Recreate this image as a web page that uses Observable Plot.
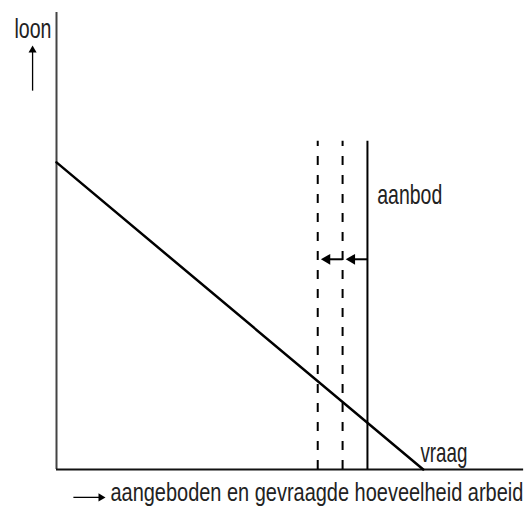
<!DOCTYPE html>
<html>
<head>
<meta charset="utf-8">
<script src="https://cdn.jsdelivr.net/npm/d3@7"></script>
<script src="https://cdn.jsdelivr.net/npm/@observablehq/plot@0.6"></script>
<style>
  html, body { margin: 0; padding: 0; background: #fff; }
  svg { display: block; }
</style>
</head>
<body>
<div id="chart"></div>
<script>
// Abstract units: x = hoeveelheid arbeid (0-100), y = loon (0-100)
const demandX = [0, 78.2];
const demandY = [67.2, 0];
const supplyX = [66.3];          // aanbod (solid)
const shiftedX = [61.0, 55.7];   // verschoven aanbod (dashed)
const supplyTop = 71.8;
const arrowY = 46.0;
const labels = ["loon", "aanbod", "vraag", "aangeboden en gevraagde hoeveelheid arbeid"];

const demand = demandX.map((x, i) => ({x, y: demandY[i]}));
const shiftArrows = [
  {x1: supplyX[0], x2: 63.0},
  {x1: shiftedX[0], x2: 57.7}
];

const font = "'Liberation Sans', Arial, sans-serif";
// target rendered widths (condensed look of the original typeface)
const textWidths = {"loon": 37, "aanbod": 65, "vraag": 47, "aangeboden en gevraagde hoeveelheid arbeid": 413};

const chart = Plot.plot({
  width: 530,
  height: 508,
  marginLeft: 56,
  marginRight: 5,
  marginTop: 12,
  marginBottom: 39,
  x: {domain: [0, 100], axis: null},
  y: {domain: [0, 100], axis: null},
  style: {fontFamily: font, background: "#fff", overflow: "visible"},
  marks: [
    // axes
    Plot.ruleX([0], {y1: 0, y2: 100, stroke: "#444", strokeWidth: 2}),
    Plot.ruleY([0], {x1: 0, x2: 99.6, stroke: "#111", strokeWidth: 2}),
    // supply lines
    Plot.ruleX(supplyX, {x: d => d, y1: 0, y2: supplyTop, stroke: "#000", strokeWidth: 2}),
    Plot.ruleX(shiftedX, {x: d => d, y1: 0, y2: supplyTop, stroke: "#000", strokeWidth: 2, strokeDasharray: "9,10"}),
    // demand
    Plot.line(demand, {x: "x", y: "y", stroke: "#000", strokeWidth: 2.5}),
    // shift arrows
    Plot.link(shiftArrows, {x1: "x1", x2: "x2", y1: arrowY, y2: arrowY, stroke: "#000", strokeWidth: 2}),
    Plot.dot(shiftArrows, {x: "x2", y: arrowY, symbol: "triangle", r: 4, rotate: -90, fill: "#000", stroke: "none"}),
    // labels
    Plot.text([labels[1]], {x: 68.4, y: 58.2, text: d => d, textAnchor: "start", lineAnchor: "bottom", fontSize: 27, fill: "#222"}),
    Plot.text([labels[2]], {x: 77.6, y: 1.75, text: d => d, textAnchor: "start", lineAnchor: "bottom", fontSize: 27, fill: "#222"}),
    Plot.text([labels[0]], {x: -1.07, y: 94.5, text: d => d, textAnchor: "end", lineAnchor: "bottom", fontSize: 27, fill: "#222"}),
    // y-axis arrow
    Plot.link([0], {x1: -5.1, x2: -5.1, y1: 82.9, y2: 91.7, stroke: "#000", strokeWidth: 1.3}),
    Plot.dot([0], {x: -5.1, y: 91.75, symbol: "triangle", r: 3, fill: "#000", stroke: "none"}),
    // x-axis label
    Plot.link([0], {x1: 3.6, x2: 9.45, y1: -6.1, y2: -6.1, stroke: "#000", strokeWidth: 1.3}),
    Plot.dot([0], {x: 9.45, y: -6.1, symbol: "triangle", r: 3, rotate: 90, fill: "#000", stroke: "none"}),
    Plot.text([labels[3]], {x: 11.5, y: -7.0, text: d => d, textAnchor: "start", lineAnchor: "bottom", fontSize: 26, fill: "#222"})
  ]
});
document.getElementById("chart").appendChild(chart);
// condense the labels horizontally (the original uses a narrow typeface)
chart.querySelectorAll("text").forEach(t => {
  const w = textWidths[t.textContent];
  if (!w) return;
  const bb = t.getBBox();
  const anchor = getComputedStyle(t).textAnchor;
  const ax = anchor === "end" ? bb.x + bb.width : anchor === "middle" ? bb.x + bb.width / 2 : bb.x;
  const s = w / bb.width;
  const prev = t.getAttribute("transform") || "";
  t.setAttribute("transform", `${prev} translate(${ax},0) scale(${s},1) translate(${-ax},0)`.trim());
});
</script>
</body>
</html>
